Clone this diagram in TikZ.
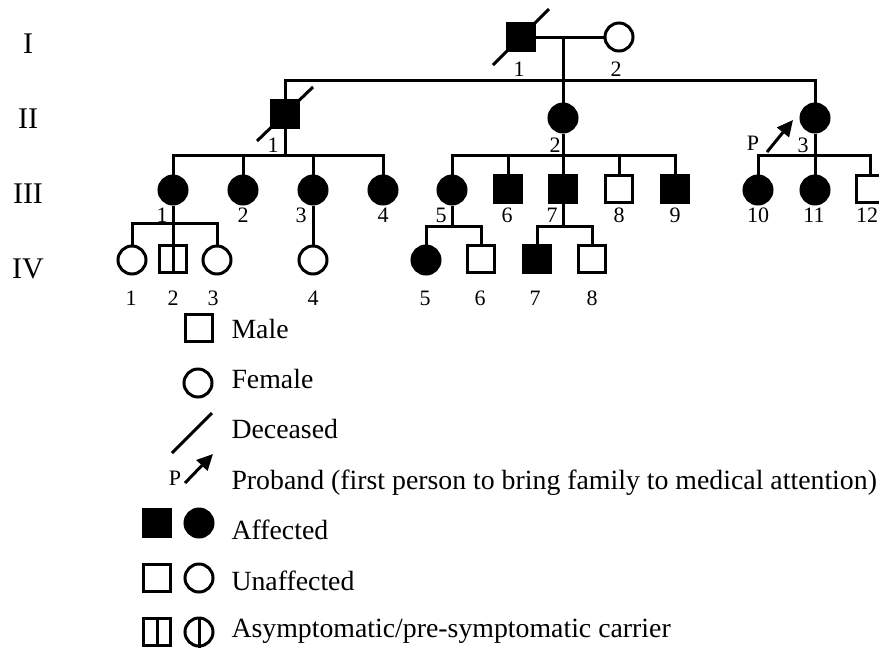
\documentclass[tikz,border=0pt]{standalone}
\usepackage{fontspec}
\setmainfont{Liberation Serif}
\usetikzlibrary{arrows.meta}
\newcommand*{\numfont}{\fontsize{22}{26}\selectfont}
\newcommand*{\genfont}{\fontsize{30}{36}\selectfont}
\newcommand*{\keyfont}{\fontsize{27.8}{33}\selectfont}
\newcommand*{\pfont}{\fontsize{22}{26}\selectfont}

\begin{document}
\begin{tikzpicture}[x=1pt,y=-1pt,line width=3pt,
    male/.style={draw,rectangle,minimum size=27pt,inner sep=0pt},
    female/.style={draw,circle,minimum size=28pt,inner sep=0pt},
    aff/.style={fill=black},
    num/.style={font=\numfont,inner sep=0pt},
    gen/.style={font=\genfont,inner sep=0pt},
    key/.style={font=\keyfont,anchor=base west,inner sep=0pt},
    plabel/.style={font=\pfont,inner sep=0pt},
    proband/.style={-{Triangle[length=16pt,width=15pt]}}]
  \useasboundingbox (0,0) rectangle (879,649);

  % generations
  \node[gen] (g1) at (28,44) {I};
  \node[gen] (g2) at (28,119) {II};
  \node[gen] (g3) at (28,194) {III};
  \node[gen] (g4) at (28,269) {IV};

  % generation I
  \node[male,aff] (I1) at (521,37) {};
  \node[female] (I2) at (619,37) {};
  \draw (I1.center) +(-28,28) -- +(28,-28);
  \draw (I1) -- (I2);
  \coordinate (m1) at (563,37);
  \coordinate (s2) at (563,80);
  \draw (m1) -- (s2);

  % generation II
  \node[male,aff] (II1) at (285,114) {};
  \node[female,aff] (II2) at (563,118) {};
  \node[female,aff] (II3) at (815,118) {};
  \draw (II1.center) +(-28,27) -- +(28,-27);
  \draw (II1) |- (s2) -| (II3);
  \draw (s2) -- (II2);
  \node[plabel] (P1) at (753,143) {P};
  \coordinate (a1) at (767,152);
  \draw[proband] (a1) -- (793,120);

  % generation III
  \foreach \n/\x in {1/173,2/243,3/313,4/383,5/452,10/758,11/815}
    \node[female,aff] (III\n) at (\x,190) {};
  \foreach \n/\x in {6/508,7/563,9/675}
    \node[male,aff] (III\n) at (\x,189) {};
  \foreach \n/\x in {8/619,12/870}
    \node[male] (III\n) at (\x,189) {};
  \coordinate (s31) at (285,155);
  \coordinate (s32) at (563,155);
  \coordinate (s33) at (815,155);
  \draw (II1) -- (s31);
  \draw (III1) |- (s31) -| (III4);
  \draw (s31 -| III2) -- (III2);
  \draw (s31 -| III3) -- (III3);
  \draw (II2) -- (s32);
  \draw (III5) |- (s32) -| (III9);
  \draw (s32 -| III6) -- (III6);
  \draw (s32) -- (III7);
  \draw (s32 -| III8) -- (III8);
  \draw (II3) -- (s33);
  \draw (III10) |- (s33) -| (III12);
  \draw (s33) -- (III11);

  % generation IV
  \node[female] (IV1) at (132,260) {};
  \node[male] (IV2) at (173,259) {};
  \draw (IV2.north) -- (IV2.south);
  \node[female] (IV3) at (217,260) {};
  \node[female] (IV4) at (313,260) {};
  \node[female,aff] (IV5) at (426,260) {};
  \node[male] (IV6) at (481,259) {};
  \node[male,aff] (IV7) at (537,259) {};
  \node[male] (IV8) at (592,259) {};
  \coordinate (s41) at (173,223);
  \coordinate (s45) at (452,226);
  \coordinate (s47) at (563,226);
  \draw (III1) -- (IV2);
  \draw (IV1) |- (s41) -| (IV3);
  \draw (III3) -- (IV4);
  \draw (III5) -- (s45);
  \draw (IV5) |- (s45) -| (IV6);
  \draw (III7) -- (s47);
  \draw (IV7) |- (s47) -| (IV8);

  % numbers
  \node[num] (nI1) at (519,69) {1};
  \node[num] (nI2) at (616,69) {2};
  \foreach \n/\x in {1/273,2/555,3/803}
    \node[num] (nII\n) at (\x,145) {\n};
  \foreach \n/\x in {1/162,2/243,3/301,4/383,5/441,6/507,7/552,8/619,9/675,10/758,11/814,12/867}
    \node[num] (nIII\n) at (\x,215) {\n};
  \foreach \n/\x in {1/131,2/173,3/213,4/313,5/425,6/480,7/535,8/592}
    \node[num] (nIV\n) at (\x,298) {\n};

  % key
  \node[male] (k-male) at (199,328) {};
  \node[key] (t-male) at (230,338) {Male};
  \node[female] (k-female) at (198,383) {};
  \node[key] (t-female) at (230,388) {Female};
  \coordinate (k-dec) at (192,433);
  \draw (k-dec) +(-20,20) -- +(20,-20);
  \node[key] (t-dec) at (230,438) {Deceased};
  \node[plabel] (k-P) at (175,478) {P};
  \coordinate (a2) at (185,483);
  \draw[proband] (a2) -- (213,454);
  \node[key] (t-prob) at (230,489) {Proband (first person to bring family to medical attention)};
  \node[male,aff] (k-ma) at (157,523) {};
  \node[female,aff] (k-fa) at (199,523) {};
  \node[key] (t-aff) at (230,539) {Affected};
  \node[male] (k-mu) at (157,578) {};
  \node[female] (k-fu) at (199,578) {};
  \node[key] (t-unaff) at (230,590) {Unaffected};
  \node[male] (k-mc) at (157,632) {};
  \draw (k-mc.north) -- (k-mc.south);
  \node[female] (k-fc) at (199,632) {};
  \draw (k-fc.north) -- (k-fc.south);
  \node[key] (t-car) at (230,637) {Asymptomatic/pre-symptomatic carrier};
\end{tikzpicture}
\end{document}
